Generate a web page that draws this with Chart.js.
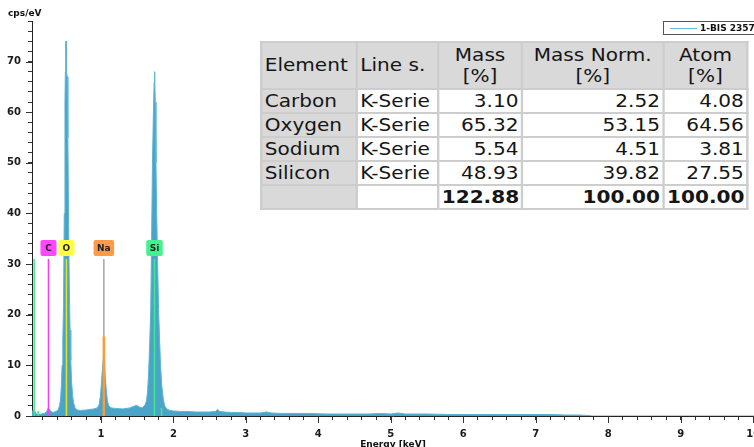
<!DOCTYPE html>
<html>
<head>
<meta charset="utf-8">
<script src="https://cdn.jsdelivr.net/npm/chart.js@4.4.0/dist/chart.umd.min.js"></script>
<style>
  html,body{margin:0;padding:0;background:#fff;}
  #wrap{position:relative;width:754px;height:447px;overflow:hidden;}
  #quant{position:absolute;left:260px;top:41px;transform:scaleX(1.18);transform-origin:0 0;table-layout:fixed;width:412px;
    border-collapse:collapse;background:#fff;font-family:"DejaVu Sans",sans-serif;font-size:17px;color:#151515;}
  #quant td,#quant th{border:2px solid #cdcdcd;padding:0 2px;height:22px;line-height:22px;white-space:nowrap;font-weight:normal;overflow:visible;}
  #quant th{background:#d9d9d9;height:45px;line-height:21px;text-align:center;}
  #quant th.l{text-align:left;}
  #quant td.el{background:#d9d9d9;text-align:left;}
  #quant td.num{text-align:right;}
  #quant tr.tot td.num{font-weight:bold;}
</style>
</head>
<body>
<div id="wrap">
  <canvas id="spec"></canvas>
  <table id="quant"></table>
</div>
<script>
// spectrum (keV / cps per eV)
const energyKeV = [0.05,0.07,0.09,0.11,0.14,0.18,0.22,0.25,0.27,0.29,0.31,0.34,0.38,0.41,
  0.43,0.445,0.455,0.465,0.475,0.485,0.495,0.505,0.51,0.515,0.52,0.525,0.535,0.545,0.555,0.565,0.575,0.585,0.595,0.61,0.625,0.645,
  0.67,0.72,0.8,0.9,0.95,0.975,0.995,1.01,1.025,1.04,1.05,1.06,1.075,1.09,1.11,1.14,
  1.2,1.3,1.4,1.45,1.49,1.53,1.57,1.61,1.63,1.645,1.66,1.675,1.688,1.7,1.712,1.725,1.735,1.742,1.75,1.76,1.77,1.783,1.796,1.81,1.823,1.84,1.86,1.88,1.91,1.95,
  2.0,2.1,2.2,2.3,2.4,2.5,2.58,2.61,2.64,2.7,2.8,2.9,3.0,3.1,3.2,3.28,3.35,3.5,3.7,3.9,4.1,4.4,4.7,4.85,5.0,5.1,5.2,5.5,5.8,6.1,6.4,6.7,7.0,7.2,7.4,7.6,7.72,7.78,10.05];
const countsCps = [0.8,1.2,0.9,0.4,0.3,0.4,0.5,0.8,1.5,1.4,0.9,0.7,0.9,1.2,
  2.0,3.5,6,10,15,22,40,62,68,74,74,68,67,55,38,25,17,11,7,4,2.5,1.6,
  1.2,1.1,1.2,1.4,1.6,2.2,4,7,10,12,11.5,8,5,3,2,1.6,
  1.5,1.4,1.6,1.9,2.1,1.8,1.6,2.2,3,5,9,15,21,35,50,60,66,68,62,50,40,30,21,15,10,6,3.5,2,1.4,1.1,
  1.0,0.9,0.9,0.8,0.8,0.8,0.9,1.3,0.9,0.8,0.7,0.7,0.6,0.6,0.6,0.8,0.6,0.5,0.5,0.5,0.4,0.4,0.4,0.5,0.4,0.6,0.4,0.4,0.3,0.3,0.3,0.3,0.3,0.3,0.2,0.2,0.1,0,0];
const seriesName = '1-BIS 2357';

// element line markers
const markerNames = ['C', 'O', 'Na', 'Si'];
const markerEnergies = [0.277, 0.525, 1.041, 1.740];
const markerHeight = 31;
const naFitPeak = 15.7;
const extraLineEnergies = [0.08, 0.135, 1.837];
const extraLineHeights = [31, 1.0, 1.6];

// axis ticks
const xTickLabels = [1,2,3,4,5,6,7,8,9,10];
const yTickLabels = [0,10,20,30,40,50,60,70];

// quantification table
const elements = ['Carbon', 'Oxygen', 'Sodium', 'Silicon'];
const lineSeries = ['K-Serie', 'K-Serie', 'K-Serie', 'K-Serie'];
const massPct = [3.10, 65.32, 5.54, 48.93];
const massNormPct = [2.52, 53.15, 4.51, 39.82];
const atomPct = [4.08, 64.56, 3.81, 27.55];
const totals = [122.88, 100.00, 100.00];

// styles
const lineColors = ['#f23ff2', '#eee21a', '#a6a6a6', '#3fe88a'];
const boxColors = ['#ff47ff', '#ffff42', '#ff9a48', '#42f292'];
const FONT = 'DejaVu Sans';

// table
const tbl = document.getElementById('quant');
let html = '<colgroup><col style="width:81px"><col style="width:69px"><col style="width:71px"><col style="width:120px"><col style="width:71px"></colgroup>';
html += '<tr><th class="l">Element</th><th class="l">Line s.</th><th>Mass<br>[%]</th><th>Mass Norm.<br>[%]</th><th>Atom<br>[%]</th></tr>';
elements.forEach((el,i)=>{
  html += `<tr><td class="el">${el}</td><td>${lineSeries[i]}</td><td class="num">${massPct[i].toFixed(2)}</td><td class="num">${massNormPct[i].toFixed(2)}</td><td class="num">${atomPct[i].toFixed(2)}</td></tr>`;
});
html += `<tr class="tot"><td class="el"></td><td></td>${totals.map(t=>`<td class="num">${t.toFixed(2)}</td>`).join('')}</tr>`;
tbl.innerHTML = html;

// datasets
const spectrum = energyKeV.map((e,i)=>({x:e, y:countsCps[i]}));
const datasets = [{
  label: seriesName, data: spectrum, order: 10,
  borderColor: '#5ab4d6', backgroundColor: '#4aa4c8', borderWidth: 1,
  fill: 'origin', pointRadius: 0, tension: 0
}];
extraLineEnergies.forEach((e,i)=>{
  datasets.push({label:'', data:[{x:e,y:0},{x:e,y:extraLineHeights[i]}], order:2,
    borderColor:'#3fe88a', borderWidth:1.5, pointRadius:0, fill:false});
});
markerEnergies.forEach((e,i)=>{
  datasets.push({label:markerNames[i], data:[{x:e,y:0},{x:e,y:markerHeight}], order:1,
    borderColor:lineColors[i], borderWidth:1.5, pointRadius:0, fill:false});
});
datasets.push({label:'Na fit', data:[{x:markerEnergies[2],y:0},{x:markerEnergies[2],y:naFitPeak}], order:0,
  borderColor:'#ff9a38', borderWidth:2.5, pointRadius:0, fill:false});

const xTicks = [];
for(let k=1;k<=50;k++) xTicks.push(Math.round(k*2)/10);
const yTicks = [];
for(let v=0;v<=78;v+=2) yTicks.push(v);

const extras = {
  id: 'extras',
  afterDraw(chart){
    const {ctx, chartArea:a, scales:{x,y}} = chart;
    ctx.save();
    ctx.strokeStyle = '#333'; ctx.lineWidth = 1;
    // longer major ticks
    xTickLabels.forEach(v=>{
      const px = Math.round(x.getPixelForValue(v))+0.5;
      ctx.beginPath(); ctx.moveTo(px,a.bottom); ctx.lineTo(px,a.bottom+7); ctx.stroke();
    });
    yTickLabels.forEach(v=>{
      const py = Math.round(y.getPixelForValue(v))+0.5;
      ctx.beginPath(); ctx.moveTo(a.left-6,py); ctx.lineTo(a.left,py); ctx.stroke();
    });
    // axis titles
    ctx.fillStyle = '#111';
    ctx.font = `bold 9px "${FONT}"`;
    ctx.textBaseline = 'middle';
    ctx.textAlign = 'left';
    ctx.fillText('cps/eV', 8, 14);
    ctx.textAlign = 'center';
    ctx.fillText('Energy [keV]', (a.left+a.right)/2, 445);
    // element label boxes
    markerNames.forEach((n,i)=>{
      const px = x.getPixelForValue(markerEnergies[i]);
      const py = y.getPixelForValue(markerHeight) - 11;
      const w = Math.max(16, ctx.measureText(n).width + 7), h = 16;
      ctx.fillStyle = boxColors[i];
      ctx.beginPath(); ctx.roundRect(px - w/2, py - h/2, w, h, 2); ctx.fill();
      ctx.fillStyle = '#222';
      ctx.fillText(n, px, py + 0.5);
    });
    // legend box, top right of the plot
    const lx = a.right - 91;
    ctx.fillStyle = '#fff';
    ctx.fillRect(lx, a.top, a.right - lx, 13);
    ctx.strokeStyle = '#555';
    ctx.strokeRect(lx + 0.5, a.top + 0.5, a.right - lx + 2, 13);
    ctx.strokeStyle = '#62bde0';
    ctx.beginPath(); ctx.moveTo(lx + 7, a.top + 7.5); ctx.lineTo(lx + 34, a.top + 7.5); ctx.stroke();
    ctx.fillStyle = '#111';
    ctx.textAlign = 'left';
    ctx.fillText(seriesName, lx + 37, a.top + 7.5);
    ctx.restore();
  }
};

new Chart(document.getElementById('spec'), {
  type: 'line',
  data: { datasets },
  plugins: [extras],
  options: {
    responsive: true, maintainAspectRatio: false, animation: false,
    layout: { padding: { top: 21, left: 0, right: 0, bottom: 0 } },
    plugins: {
      tooltip: { enabled: false },
      legend: { display: false }
    },
    scales: {
      x: {
        type: 'linear', min: 0.05, max: 10.01,
        afterBuildTicks: s => { s.ticks = xTicks.map(v=>({value:v})); },
        afterFit: s => { s.height = 31; s.paddingLeft = 0; s.paddingRight = 0; },
        ticks: {
          autoSkip: false, maxRotation: 0, minRotation: 0, padding: 8, color: '#1a1a1a',
          font: { family: FONT, size: 10, weight: 'bold' },
          callback: v => xTickLabels.includes(Math.round(v*1000)/1000) ? String(Math.round(v)) : ''
        },
        grid: { drawOnChartArea: false, drawTicks: true, tickLength: 4, color: '#333' },
        border: { color: '#222', width: 1 }
      },
      y: {
        min: 0, max: 78,
        afterBuildTicks: s => { s.ticks = yTicks.map(v=>({value:v})); },
        afterFit: s => { s.width = 32; s.paddingTop = 0; s.paddingBottom = 0; },
        ticks: {
          autoSkip: false, padding: 7, color: '#1a1a1a',
          font: { family: FONT, size: 10, weight: 'bold' },
          callback: v => yTickLabels.includes(v) ? String(v) : ''
        },
        grid: { drawOnChartArea: false, drawTicks: true, tickLength: 4, color: '#333' },
        border: { color: '#222', width: 1 }
      }
    }
  }
});
</script>
</body>
</html>
